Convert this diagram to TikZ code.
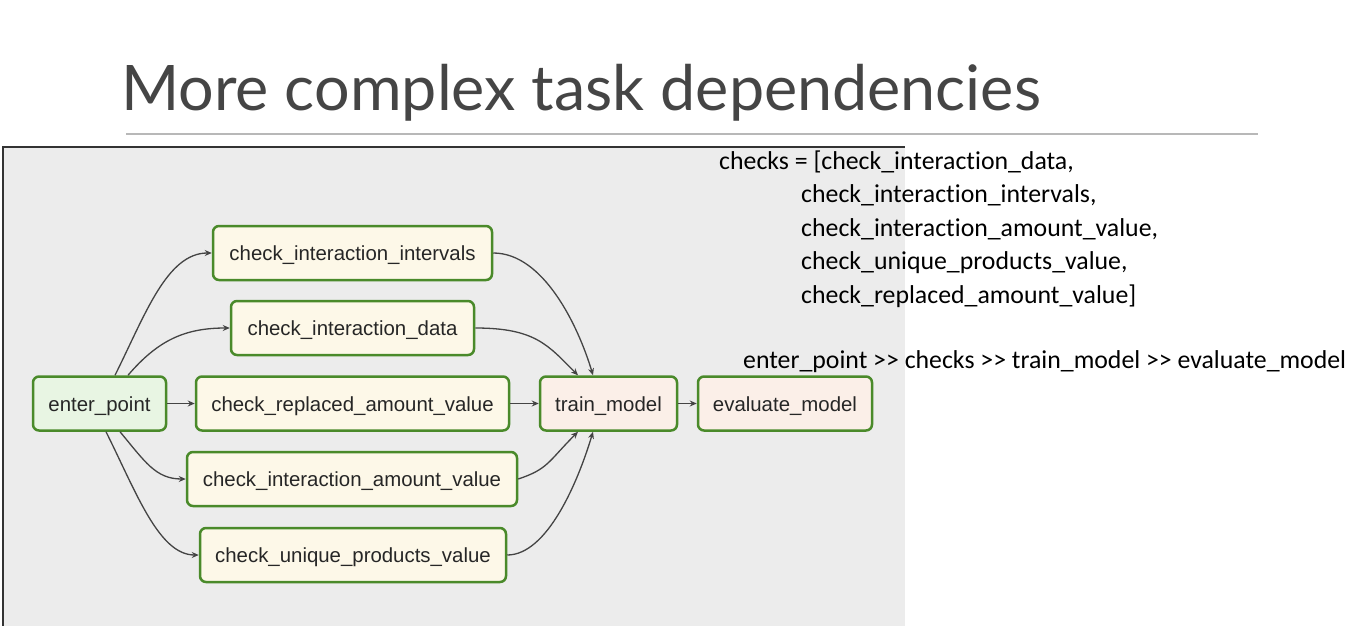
\documentclass[tikz,border=0pt]{standalone}
\usepackage{fontspec}
\usetikzlibrary{arrows.meta}
\newfontfamily\titlefont{Lato}
\newfontfamily\codefont[Ligatures={NoCommon,NoContextual,NoRare}]{Carlito}
\newfontfamily\nodefont{Liberation Sans}
\definecolor{panelgray}{HTML}{ECECEC}
\definecolor{taskgreen}{HTML}{4A8A2A}
\definecolor{startfill}{HTML}{E8F5E3}
\definecolor{checkfill}{HTML}{FDF8E8}
\definecolor{modelfill}{HTML}{FBEFE8}
\definecolor{titlegray}{HTML}{454545}
\definecolor{edgegray}{HTML}{444444}
\tikzset{
  task/.style={draw=taskgreen, line width=2.5pt, rounded corners=6pt,
    minimum height=54pt, inner sep=0pt, text=black!85,
    text height=15pt, text depth=0pt,
    font=\nodefont\fontsize{20.4}{24}\selectfont},
  edge/.style={draw=edgegray, line width=1.3pt,
    -{Stealth[length=7pt,width=6pt]}},
  codeline/.style={anchor=base west, inner sep=0pt,
    font=\codefont\fontsize{25.8}{30}\selectfont}
}
\begin{document}
\begin{tikzpicture}[x=1pt,y=-1pt]
\useasboundingbox (0,0) rectangle (1370,626);
\fill[white] (0,0) rectangle (1370,626);
% title
\node[anchor=base west, inner sep=0pt, text=titlegray,
  font=\titlefont\fontsize{62.8}{72}\selectfont] (title) at (121,110) {More complex task dependencies};
\draw[black!28, line width=2pt] (126,134) -- (1258,134);
% panel
\fill[panelgray] (3,147) rectangle (905,626);
\draw[black!80, line width=1.6pt] (3,626) -- (3,147) -- (905,147);
% nodes
\node[task, fill=startfill, minimum width=133pt] (enter) at (99.5,403.5) {enter\_point};
\node[task, fill=checkfill, minimum width=279pt] (intervals) at (352.5,253) {check\_interaction\_intervals};
\node[task, fill=checkfill, minimum width=243pt] (data) at (352.5,328) {check\_interaction\_data};
\node[task, fill=checkfill, minimum width=313pt] (replaced) at (352.5,403.5) {check\_replaced\_amount\_value};
\node[task, fill=checkfill, minimum width=330pt] (amount) at (352,479) {check\_interaction\_amount\_value};
\node[task, fill=checkfill, minimum width=306pt] (unique) at (353,555) {check\_unique\_products\_value};
\node[task, fill=modelfill, minimum width=137pt] (train) at (608.5,403.5) {train\_model};
\node[task, fill=modelfill, minimum width=174pt] (evaluate) at (785,403.5) {evaluate\_model};
% edges
\draw[edge] ([xshift=15.5pt]enter.north) .. controls +(30pt,60pt) and +(-45pt,0pt) .. (intervals.west);
\draw[edge] ([xshift=28.5pt]enter.north) .. controls +(30pt,35pt) and +(-45pt,0pt) .. (data.west);
\draw[edge] (enter.east) -- (replaced.west);
\draw[edge] ([xshift=20.5pt]enter.south) .. controls +(25pt,-30pt) and +(-30pt,0pt) .. (amount.west);
\draw[edge] ([xshift=6.5pt]enter.south) .. controls +(30pt,-60pt) and +(-40pt,0pt) .. (unique.west);
\draw[edge] (intervals.east) .. controls +(50pt,0pt) and +(-15pt,50pt) .. ([xshift=-15.5pt]train.north);
\draw[edge] (data.east) .. controls +(60pt,0pt) and +(-30pt,30pt) .. ([xshift=-30.5pt]train.north);
\draw[edge] (replaced.east) -- (train.west);
\draw[edge] (amount.east) .. controls +(30pt,10pt) and +(-30pt,-30pt) .. ([xshift=-30.5pt]train.south);
\draw[edge] (unique.east) .. controls +(40pt,0pt) and +(-15pt,-50pt) .. ([xshift=-15.5pt]train.south);
\draw[edge] (train.east) -- (evaluate.west);
% code text
\node[codeline] (c1) at (719,169) {checks = [check\_interaction\_data,};
\node[codeline] (c2) at (801,202.5) {check\_interaction\_intervals,};
\node[codeline] (c3) at (801,236) {check\_interaction\_amount\_value,};
\node[codeline] (c4) at (801,269.5) {check\_unique\_products\_value,};
\node[codeline] (c5) at (801,303) {check\_replaced\_amount\_value]};
\node[codeline] (c6) at (743,368) {enter\_point >> checks >> train\_model >> evaluate\_model};
\end{tikzpicture}
\end{document}
